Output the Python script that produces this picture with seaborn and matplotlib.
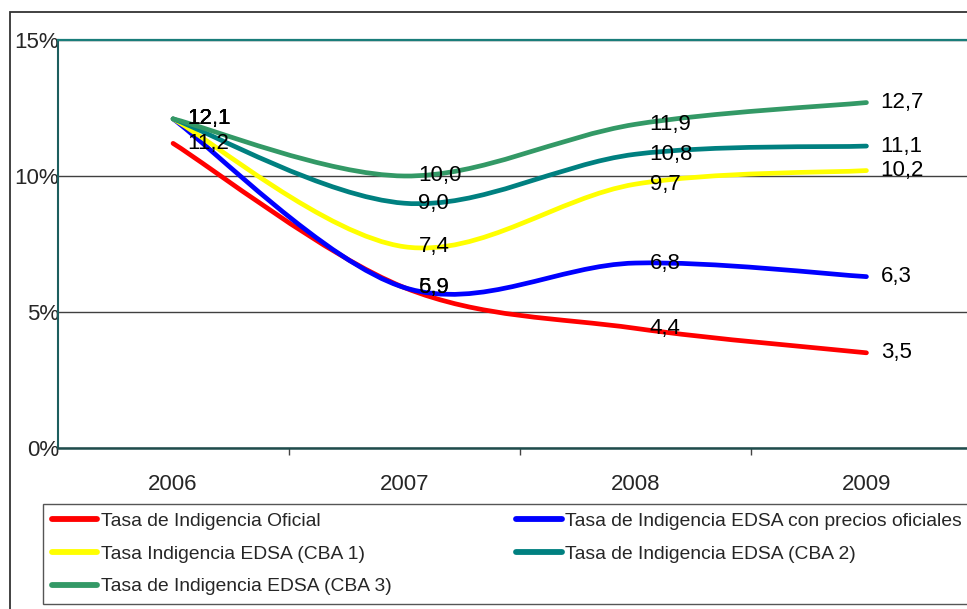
import numpy as np
import pandas as pd
import matplotlib
matplotlib.use("Agg")
import matplotlib.pyplot as plt
import seaborn as sns
from matplotlib.path import Path
from matplotlib.patches import PathPatch, Rectangle
from matplotlib.lines import Line2D

# ---------------- data ----------------
years = ["2006", "2007", "2008", "2009"]
series_names = [
    "Tasa de Indigencia Oficial",
    "Tasa de Indigencia EDSA con precios oficiales",
    "Tasa Indigencia EDSA (CBA 1)",
    "Tasa de Indigencia EDSA (CBA 2)",
    "Tasa de Indigencia EDSA (CBA 3)",
]
oficial = [11.2, 5.9, 4.4, 3.5]
edsa_precios_oficiales = [12.1, 5.9, 6.8, 6.3]
edsa_cba1 = [12.1, 7.4, 9.7, 10.2]
edsa_cba2 = [12.1, 9.0, 10.8, 11.1]
edsa_cba3 = [12.1, 10.0, 11.9, 12.7]

lab_oficial = ["11,2", "5,9", "4,4", "3,5"]
lab_edsa_precios = ["12,1", "6,9", "6,8", "6,3"]
lab_cba1 = ["12,1", "7,4", "9,7", "10,2"]
lab_cba2 = ["12,1", "9,0", "10,8", "11,1"]
lab_cba3 = ["12,1", "10,0", "11,9", "12,7"]

y_ticks = [0, 5, 10, 15]
y_ticklabels = ["0%", "5%", "10%", "15%"]

colors = ["#FF0000", "#0000FF", "#FFFF00", "#008080", "#339966"]
values = [oficial, edsa_precios_oficiales, edsa_cba1, edsa_cba2, edsa_cba3]
labels = [lab_oficial, lab_edsa_precios, lab_cba1, lab_cba2, lab_cba3]

# ---------------- style ----------------
sns.set_theme(style="white")
plt.rcParams["font.family"] = ["Liberation Sans", "DejaVu Sans"]

W, H = 967, 609
fig = plt.figure(figsize=(W / 100, H / 100), dpi=100)
fig.patch.set_facecolor("white")

# outer frame (chart area border)
fig.add_artist(Rectangle((9.5 / W, -0.05), 1.1, (H - 12) / H + 0.05,
                         transform=fig.transFigure, fill=False,
                         edgecolor="#333333", lw=1.3, zorder=0))

ax_left, ax_right = 57.5, 982.0
ax_top, ax_bottom = 40.0, 448.0
ax = fig.add_axes([ax_left / W, (H - ax_bottom) / H,
                   (ax_right - ax_left) / W, (ax_bottom - ax_top) / H])
ax.set_facecolor("white")

df = pd.DataFrame({
    "x": np.tile(np.arange(len(years)), len(series_names)),
    "valor": np.concatenate([np.array(v, float) for v in values]),
    "serie": np.repeat(series_names, len(years)),
})

sns.lineplot(data=df, x="x", y="valor", hue="serie", hue_order=series_names,
             palette=colors, lw=3.4, sort=False, legend=False, ax=ax)
# Excel-like smoothed rendering of the same series
for line in ax.lines:
    line.set_visible(False)


def smooth_path(xs, ys):
    P = np.column_stack([xs, ys]).astype(float)
    n = len(P)
    verts = [P[0]]
    codes = [Path.MOVETO]
    for i in range(n - 1):
        p0 = P[i - 1] if i > 0 else P[i]
        p1 = P[i]
        p2 = P[i + 1]
        p3 = P[i + 2] if i + 2 < n else P[i + 1]
        c1 = p1 + (p2 - p0) / 6.0
        c2 = p2 - (p3 - p1) / 6.0
        verts += [c1, c2, p2]
        codes += [Path.CURVE4] * 3
    return Path(verts, codes)


xs = np.arange(len(years))
for k, (vals, col) in enumerate(zip(values, colors)):
    patch = PathPatch(smooth_path(xs, vals), fill=False, edgecolor=col,
                      lw=3.4, capstyle="round", joinstyle="round",
                      transform=ax.transData, zorder=3 + k * 0.1)
    ax.add_patch(patch)

for vals, labs in zip(values, labels):
    for i, (v, t) in enumerate(zip(vals, labs)):
        ax.annotate(t, (i, v), xytext=(10.3, 0), textcoords="offset points",
                    ha="left", va="center", fontsize=16, color="black",
                    zorder=10)

ax.set_xlim(-0.5, len(years) - 0.5)
ax.set_ylim(0, 15)
ax.set_xticks(xs)
ax.set_xticklabels(years, fontsize=16)
ax.set_xticks([0.5, 1.5, 2.5], minor=True)
ax.set_yticks(y_ticks)
ax.set_yticklabels(y_ticklabels, fontsize=16)
ax.tick_params(axis="x", which="major", length=0, pad=19)
ax.tick_params(axis="x", which="minor", length=5, width=1.0, color="#444444",
               direction="out", bottom=True)
ax.tick_params(axis="y", length=0, pad=-1)
for lab in ax.get_yticklabels():
    lab.set_horizontalalignment("right")

ax.yaxis.grid(True, color="#404040", lw=1.0)
ax.xaxis.grid(False)
ax.set_axisbelow(True)
ax.set_xlabel("")
ax.set_ylabel("")

ax.spines["top"].set_color("#1a7d7a")
ax.spines["top"].set_linewidth(1.6)
ax.spines["left"].set_color("#1d5e5e")
ax.spines["left"].set_linewidth(1.5)
ax.spines["bottom"].set_color("#1f4c4c")
ax.spines["bottom"].set_linewidth(1.8)
ax.spines["right"].set_visible(False)

# legend (column order as in the reference)
order = [0, 2, 4, 1, 3]
handles = [Line2D([], [], color=colors[i], lw=4.2, solid_capstyle="round")
           for i in order]
leg_labels = [series_names[i] for i in order]
leg = fig.legend(handles, leg_labels, ncol=2, loc="upper left",
                 bbox_to_anchor=(43 / W, (H - 504) / H), borderaxespad=0,
                 prop={"family": "Liberation Sans", "size": 13.9},
                 handlelength=2.35, handletextpad=0.2, columnspacing=6.45,
                 labelspacing=0.78, borderpad=0.45, frameon=True,
                 fancybox=False, framealpha=1)
leg.get_frame().set_edgecolor("#555555")
leg.get_frame().set_linewidth(1.0)

fig.savefig("out.png", dpi=100, facecolor="white")
